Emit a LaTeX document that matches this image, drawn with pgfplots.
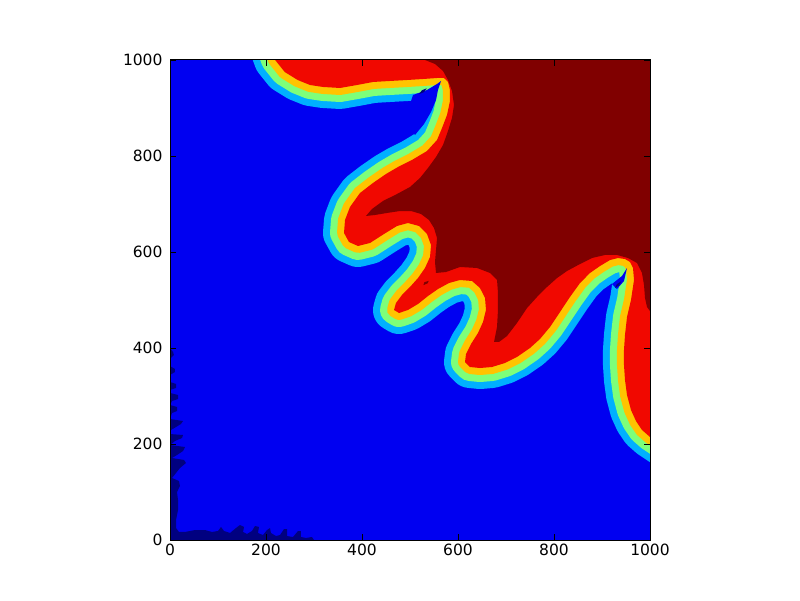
\documentclass[border=0pt]{standalone}
\usepackage{fontspec}
\setmainfont{DejaVu Sans}
\usepackage{pgfplots}
\usepackage{pgfplotstable}
\pgfplotsset{compat=1.18}

% jet colours of the filled contour levels (under, 0.1 ... 0.9, over)
\definecolor{jetunder}{RGB}{0,0,128}
\definecolor{jetA}{RGB}{0,0,241}
\definecolor{jetB}{RGB}{0,176,255}
\definecolor{jetC}{RGB}{125,255,122}
\definecolor{jetD}{RGB}{255,196,0}
\definecolor{jetE}{RGB}{241,8,0}
\definecolor{jetover}{RGB}{128,0,0}

% edge between the yellow and the red level (closed far outside the axis)
\pgfplotstableread{
x y
192 1074
219 1000
239 975
266 958.3
291.7 947.9
318.8 943.8
354.2 941.7
389.6 947.9
422.9 954.2
458.3 956.3
493.8 958.3
527.1 960.4
556.3 962.5
570.8 962.5
579.2 954.2
583.3 937.5
583.3 914.6
577.1 885.4
566.7 858.3
556.3 833.3
535.4 810.4
504.2 791.7
475 777.1
450 762.5
422.9 743.8
395.8 722.9
375 693.8
364.6 666.7
362.5 639.6
372.9 620.8
391.7 612.5
416.7 618.8
445.8 637.5
472.9 654.2
495.8 660.4
518.8 654.2
535.4 637.5
543.8 614.6
541.7 589.6
531.3 566.7
516.7 545.8
500 527.1
483.3 510.4
470.8 493.8
466.7 479.2
477.1 472.9
495.8 479.2
516.7 491.7
537.5 508.3
558.3 522.9
581.3 535.4
604.2 541.7
629.2 539.6
645.8 525
656.3 504.2
658.3 479.2
652.1 454.2
641.7 431.3
627.1 408.3
616.7 387.5
614.6 370.8
625 360.4
645.8 358.3
670.8 360.4
697.9 368.8
722.9 381.3
750 400
770.8 418.8
791.7 443.8
812.5 475
833.3 506.3
854.2 535.4
875 556.3
895.8 570.8
916.7 583.3
933.3 587.5
947.9 585.4
958.3 579.2
964.6 566.7
966.7 541.7
960.4 500
952.1 464.6
947.9 427.1
945.8 395.8
945.8 364.6
947.9 333.3
952.1 302.1
960.4 270.8
970.8 247.9
983.3 229.2
1000 214.6
1025 197.9
1300 197.9
1300 1300
100 1300
}\redT

% edge of the top level
\pgfplotstableread{
x y
520 1100
531.3 1000
552.1 991.7
568.8 977.1
579.2 958.3
587.5 935.4
591.7 906.3
587.5 879.2
579.2 852.1
568.8 822.9
554.2 797.9
537.5 775
520.8 754.2
500 735.4
472.9 720.8
443.8 706.3
420.8 689.6
408.3 675
427.1 677.1
452.1 681.3
479.2 685.4
502.1 685.4
522.9 679.2
539.6 666.7
550 650
556.3 629.2
554.2 604.2
552.1 579.2
554.2 556.3
575 558.3
604.2 568.8
639.6 566.7
666.7 556.3
681.3 541.7
683.3 514.6
683.3 479.2
681.3 443.8
675 412.5
685.4 412.5
702.1 425
722.9 452.1
743.8 483.3
764.6 506.3
785.4 527.1
806.3 545.8
827.1 560.4
854.2 575
879.2 587.5
906.3 593.8
931.3 593.8
954.2 587.5
972.9 577.1
983.3 556.3
987.5 531.3
989.6 504.2
993.8 485.4
1005 470
1300 470
1300 1300
520 1300
}\overT

% lowest level along the left and bottom edges
\pgfplotstableread{
x y
0 400
6.25 391.7
8.3 385.4
2.1 379.2
0 362.5
10.4 356.25
10.4 350
0 343.75
0 329.2
12.5 325
12.5 316.7
0 312.5
0 306.25
16.7 302.1
16.7 293.75
4.2 289.6
0 281.25
14.6 277.1
14.6 268.75
4.2 264.6
0 252.1
27.1 247.9
22.9 241.7
12.5 235.4
2.1 229.2
0 220.8
27.1 218.75
25 212.5
10.4 206.25
0 197.9
31.25 193.75
27.1 185.4
14.6 177.1
4.2 170.8
29.2 166.7
33.3 160.4
20.8 150
12.5 139.6
4.2 129.2
18.75 122.9
20.8 112.5
14.6 100
16.7 83.3
16.7 62.5
12.5 41.7
12.5 25
18.75 16.7
31.25 16.7
52.1 20.8
72.9 20.8
87.5 16.7
100 18.75
106.25 27.1
112.5 18.75
125 14.6
137.5 25
145.8 31.25
154.2 27.1
152.1 16.7
160.4 12.5
170.8 18.75
177.1 29.2
185.4 27.1
183.3 14.6
193.75 10.4
202.1 20.8
208.3 25
210.4 14.6
220.8 8.3
229.2 10.4
237.5 22.9
243.75 22.9
243.75 8.3
256.25 6.25
266.7 18.75
272.9 18.75
272.9 6.25
283.3 4.2
295.8 6.25
300 0
-10 -10
-10 400
}\underT

% blue wedges that reach into the two tips
\pgfplotstableread{
x y
506.25 927.1
535.4 937.5
556.25 950
564.6 956.25
558.3 937.5
554.2 916.7
543.75 891.7
529.2 866.7
510.4 843.75
489.6 875
}\wedgeA

\pgfplotstableread{
x y
952.1 566.7
941.7 550
920.8 533.3
931.25 522.9
945.8 539.6
}\wedgeB

\pgfplotstableread{
x y
519 929
529 933
535 941
525 937
}\dotA

\pgfplotstableread{
x y
927 525
936 531
940 539
931 533
}\dotB

\pgfplotstableread{
x y
528 531
537 535
539 540
530 537
}\dotC

\begin{document}
\begin{tikzpicture}
\path[use as bounding box] (0pt,0pt) rectangle (800pt,600pt);
\begin{axis}[
    at={(170pt,60pt)}, anchor=south west,
    width=480pt, height=480pt, scale only axis,
    xmin=0, xmax=1000, ymin=0, ymax=1000,
    xtick={0,200,...,1000}, ytick={0,200,...,1000},
    tick align=inside, tick pos=both,
    major tick length=6pt,
    tick style={black, line width=0.8pt},
    axis line style={black, line width=1pt},
    axis on top,
    no markers,
    axis background/.style={fill=jetA},
    ticklabel style={font=\fontsize{15.5}{18}\selectfont},
    yticklabel style={xshift=-4pt},
    /pgf/number format/assume math mode=true,
    /pgf/number format/1000 sep={},
]
\addplot[draw=none, fill=jetunder] table {\underT};

% the three bands below the red level
\addplot[jetB, line width=42pt, line join=round, line cap=round] table {\redT};
\addplot[jetC, line width=28pt, line join=round, line cap=round] table {\redT};
\addplot[jetD, line width=14pt, line join=round, line cap=round] table {\redT};

\addplot[draw=none, fill=jetA] table {\wedgeA};
\addplot[draw=none, fill=jetA] table {\wedgeB};
\addplot[draw=none, fill=jetunder] table {\dotA};
\addplot[draw=none, fill=jetunder] table {\dotB};

\addplot[draw=none, fill=jetE] table {\redT};
\addplot[draw=none, fill=jetover] table {\overT};
\addplot[draw=none, fill=jetover] table {\dotC};
\end{axis}
\end{tikzpicture}
\end{document}
